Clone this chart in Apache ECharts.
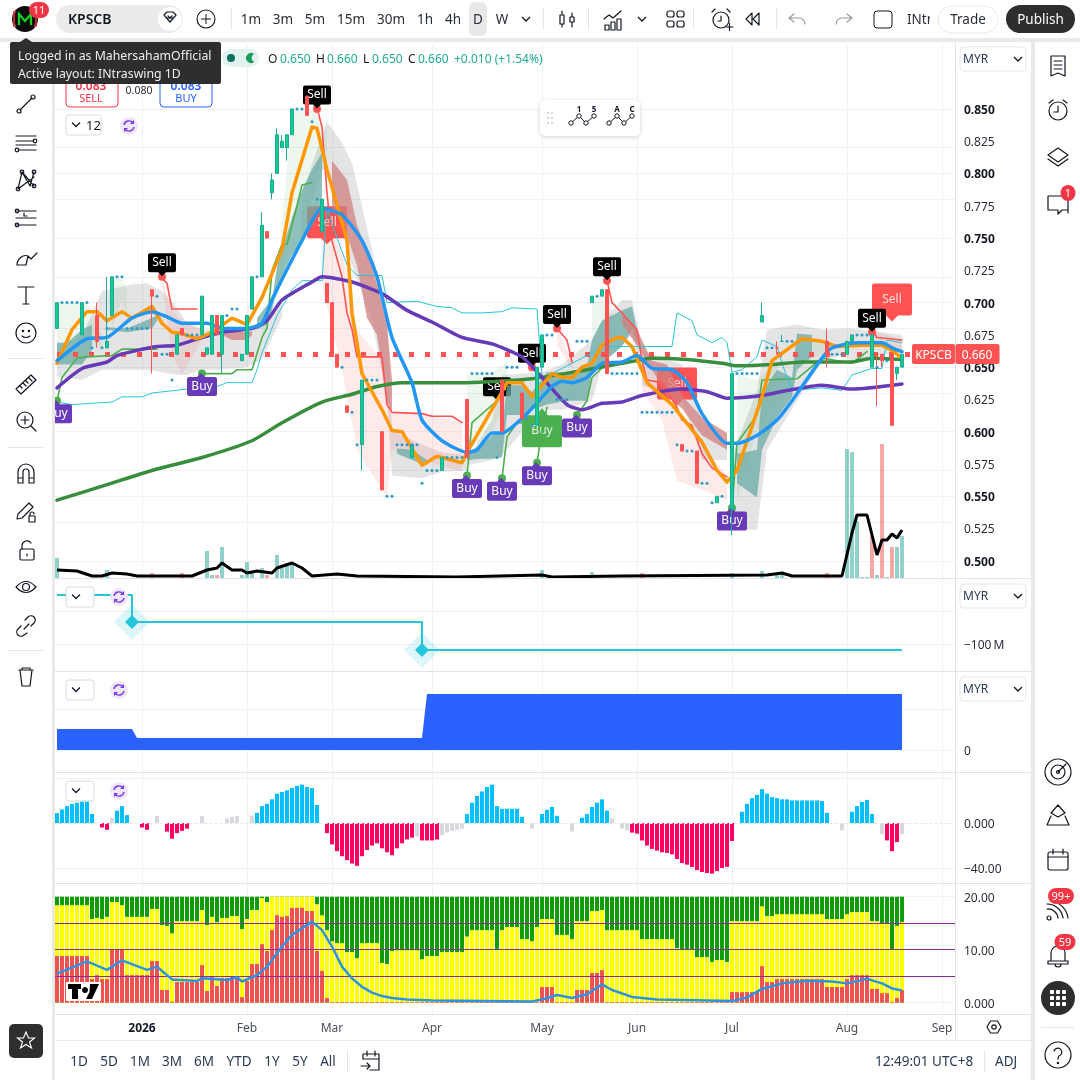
<!DOCTYPE html>
<html><head><meta charset="utf-8">
<script src="https://cdn.jsdelivr.net/npm/echarts@6/dist/echarts.min.js"></script>
<style>
html,body{margin:0;padding:0;background:#fff;width:1080px;height:1080px;overflow:hidden}
#c{position:absolute;left:0;top:0;width:1080px;height:1080px}
#o{position:absolute;left:0;top:0;width:1080px;height:1080px;pointer-events:none;font-family:"Noto Sans",sans-serif}
</style></head><body>
<div id="c"></div>
<svg id="o" viewBox="0 0 1080 1080" xmlns="http://www.w3.org/2000/svg"></svg>
<script>
// ---------- DATA ----------
const monthIdx=[17,38,55,75,97,116,135,158,177];
const monthLabels=['2026','Feb','Mar','Apr','May','Jun','Jul','Aug','Sep'];
const priceTicks=[0.5,0.525,0.55,0.575,0.6,0.625,0.65,0.675,0.7,0.725,0.75,0.775,0.8,0.825,0.85];
// [index, open, close, low, high]
const candles=[[0,.68,.70,.68,.70],[5,.675,.70,.675,.70],[8,.69,.67,.665,.70],[10,.665,.67,.665,.72],[11,.69,.72,.69,.72],[19,.71,.705,.645,.71],[24,.66,.675,.66,.675],[25,.68,.675,.675,.68],[29,.675,.705,.675,.705],[30,.66,.665,.66,.665],[31,.66,.69,.66,.69],[32,.69,.675,.675,.69],[33,.66,.69,.645,.69],[37,.655,.66,.655,.66],[38,.66,.69,.66,.69],[39,.695,.72,.695,.72],[41,.72,.76,.72,.77],[42,.755,.75,.75,.755],[43,.785,.795,.78,.80],[44,.80,.83,.80,.835],[45,.82,.825,.82,.83],[46,.82,.83,.81,.83],[47,.83,.85,.83,.85],[50,.86,.845,.845,.86],[53,.755,.78,.755,.78],[54,.715,.70,.70,.715],[55,.70,.66,.66,.70],[56,.66,.65,.65,.66],[58,.62,.615,.615,.62],[61,.59,.64,.57,.64],[65,.60,.555,.555,.60],[71,.58,.59,.58,.59],[77,.57,.58,.57,.58],[82,.625,.58,.58,.625],[89,.64,.60,.60,.64],[93,.63,.61,.61,.63],[96,.605,.65,.605,.65],[97,.65,.675,.65,.675],[107,.70,.705,.70,.705],[109,.705,.71,.705,.71],[110,.71,.645,.645,.71],[125,.59,.585,.585,.59],[128,.585,.56,.56,.585],[132,.545,.55,.545,.55],[135,.54,.645,.52,.645],[141,.685,.69,.685,.70],[144,.665,.665,.66,.67],[145,.67,.67,.67,.675],[154,.67,.66,.65,.68],[158,.66,.67,.66,.67],[159,.67,.675,.67,.675],[163,.65,.675,.65,.675],[164,.66,.66,.62,.66],[165,.66,.655,.65,.66],[167,.66,.605,.605,.66],[168,.645,.65,.64,.65],[169,.65,.66,.65,.66]];
const dotGroups=[[.70,[1,2,3,4,6]],[.72,[12,13,40]],[.665,[7,9,142,143]],[.68,[10,14,15,16,17,18]],[.705,[20,108]],[.66,[21,22,155,156,157]],[.64,[23,62,63,64]],[.675,[26,27,28,98,99,160,161,162]],[.69,[34]],[.695,[35,36]],[.85,[48,49]],[.84,[51]],[.78,[52]],[.65,[57,90,91,92,164]],[.615,[59,117,118,119,120,121,122,123]],[.59,[60,68,69,70,71,72,124]],[.55,[66,67,133]],[.56,[73,129,130]],[.57,[74,75,76]],[.58,[78,79,80,81,88]],[.645,[83,84,85,86,87,111,112,113,114,115,116,136,137,138,139,140]],[.61,[94]],[.605,[95]],[.625,[100,101,102]],[.67,[104,105,106,146,147]],[.585,[126,127]],[.545,[131]],[.655,[166]]];
const ma200=[[0,.547],[10,.559],[19,.570],[29,.580],[39,.593],[45,.607],[53,.623],[59,.629],[64,.635],[69,.638],[82,.638],[95,.641],[106,.648],[113,.653],[119,.657],[126,.656],[133,.653],[136,.651],[143,.652],[149,.654],[159,.654],[163,.657],[169,.656]];
const ma50=[[0,.634],[5,.649],[10,.654],[12,.659],[16,.663],[20,.666],[24,.667],[29,.673],[33,.677],[39,.680],[42,.686],[45,.702],[51,.716],[53,.720],[59,.716],[65,.707],[70,.694],[75,.685],[81,.673],[87,.668],[93,.658],[97,.642],[102,.621],[105,.617],[109,.622],[113,.623],[117,.628],[125,.633],[130,.631],[134,.626],[141,.628],[146,.632],[153,.636],[159,.633],[169,.637]];
const ma20=[[0,.655],[6,.672],[10,.673],[15,.688],[19,.693],[22,.689],[25,.684],[30,.684],[33,.680],[38,.680],[41,.684],[43,.702],[45,.718],[49,.748],[53,.773],[57,.768],[61,.748],[64,.72],[67,.673],[71,.638],[73,.609],[77,.593],[82,.584],[84,.586],[87,.599],[89,.599],[94,.614],[99,.635],[101,.639],[103,.638],[106,.642],[109,.653],[113,.654],[116,.659],[119,.649],[123,.648],[126,.638],[129,.614],[134,.591],[136,.591],[140,.597],[144,.609],[147,.624],[153,.657],[155,.665],[160,.669],[165,.669],[167,.665],[169,.662]];
const ma10=[[0,.653],[3,.679],[6,.693],[8,.693],[10,.686],[13,.693],[15,.688],[19,.697],[21,.684],[23,.677],[25,.676],[28,.672],[31,.677],[35,.688],[38,.683],[41,.704],[45,.741],[47,.785],[51,.836],[52,.835],[54,.803],[58,.748],[59,.692],[61,.645],[65,.617],[67,.601],[69,.600],[73,.574],[76,.581],[81,.576],[82,.584],[88,.624],[90,.638],[93,.638],[95,.627],[99,.645],[101,.642],[103,.642],[105,.650],[107,.653],[109,.667],[112,.673],[113,.673],[115,.666],[118,.638],[123,.621],[129,.592],[132,.570],[134,.561],[136,.570],[141,.627],[143,.655],[149,.672],[153,.670],[156,.666],[161,.667],[165,.667],[167,.663],[169,.657]];
const redTrails=[
 [[21,.719],[22,.715],[23,.695],[28,.695]],
 [[52,.851],[53,.836],[54,.785],[55,.748],[57,.72],[58,.692],[59,.679],[60,.658],[65,.658],[66,.621],[67,.615],[73,.614],[75,.612],[79,.612],[81,.607]],
 [[100,.680],[102,.671],[103,.654]],
 [[110,.717],[111,.700],[113,.692],[116,.679],[117,.655],[118,.640],[121,.638],[124,.619],[125,.609],[127,.605],[129,.583],[131,.572],[134,.565]],
 [[163,.679],[164,.673],[169,.671]]];
const greenTrails=[
 [[0,.624],[1,.642],[4,.657],[6,.658],[11,.659],[13,.664],[20,.664]],
 [[29,.645],[35,.645],[36,.648],[39,.648],[41,.673],[42,.680],[43,.725],[45,.745],[46,.745],[48,.775],[49,.791],[51,.793]],
 [[82,.566],[83,.607],[88,.624]],
 [[89,.564],[90,.596],[92,.607],[95,.607]],
 [[96,.576],[97,.601],[98,.619]],
 [[104,.613],[106,.624],[107,.642],[110,.653]],
 [[135,.541],[136,.591],[140,.613],[141,.640],[148,.641],[153,.657],[159,.653],[162,.662]]];
const channel=[[0,.623],[3,.621],[11,.623],[13,.627],[17,.627],[19,.630],[26,.633],[29,.635],[32,.635],[34,.638],[39,.638],[40,.648],[41,.661],[44,.690],[47,.710],[49,.717],[53,.717],[54,.774],[55,.761],[58,.729],[60,.721],[65,.721],[66,.700],[72,.701],[76,.697],[79,.696],[81,.692],[85,.692],[89,.693],[91,.696],[96,.695],[97,.642],[99,.645],[107,.661],[109,.666],[113,.666],[123,.666],[124,.692],[127,.686],[128,.675],[129,.673],[131,.669],[133,.673],[134,.669],[135,.646],[137,.648],[140,.658],[141,.671],[144,.666],[145,.653],[147,.632],[153,.634],[157,.632],[159,.644],[163,.649],[165,.649],[166,.671],[169,.669]];
// bands: [index, upper, lower]
const tealBands=[
 [[0,.669,.652],[2,.669,.652],[5,.679,.652],[7,.683,.663]],
 [[10,.681,.679],[14,.680,.677],[19,.688,.680],[20,.690,.686]],
 [[40,.688,.679],[42,.698,.683],[43,.702,.694],[44,.728,.713],[47,.766,.737],[49,.787,.748],[51,.803,.76],[53,.816,.774]],
 [[68,.587,.583],[71,.586,.578],[74,.578,.574]],
 [[82,.584,.578],[85,.590,.579],[87,.597,.579],[89,.601,.580],[90,.636,.613],[93,.636,.613],[95,.631,.617],[98,.646,.621],[102,.646,.624],[106,.650,.624],[107,.671,.648],[109,.686,.653],[113,.694,.666],[115,.697,.679],[116,.679,.667]],
 [[136,.583,.560],[140,.586,.549],[141,.630,.586],[144,.648,.611],[147,.642,.627],[148,.676,.648],[151,.675,.658]]];
const grayBands=[
 [[0,.666,.643],[5,.674,.640],[9,.709,.648],[15,.714,.648],[18,.715,.648],[21,.709,.646],[24,.696,.644],[26,.684,.644],[29,.679,.648],[32,.679,.648],[38,.679,.650],[41,.683,.656],[45,.704,.689]],
 [[49,.783,.745],[51,.807,.779],[54,.84,.81],[57,.824,.756],[59,.808,.729],[63,.741,.686],[66,.686,.624],[67,.601,.566],[73,.590,.564],[77,.584,.569],[82,.582,.570]],
 [[82,.578,.574],[87,.609,.578],[89,.644,.582],[97,.646,.617],[101,.652,.617],[107,.671,.624],[109,.686,.652],[113,.702,.667],[115,.702,.675],[117,.667,.644]],
 [[117,.663,.636],[125,.652,.624],[129,.609,.578],[134,.593,.578]],
 [[135,.582,.524],[140,.632,.524],[142,.679,.586],[148,.683,.624],[153,.679,.655],[157,.680,.659],[159,.680,.655],[169,.675,.663]]];
const paleGreenBands=[
 [[0,.700,.667],[6,.700,.671],[9,.675,.663]],
 [[11,.720,.679],[13,.720,.702],[14,.710,.686]],
 [[41,.679,.671],[44,.717,.702],[47,.849,.764],[51,.849,.803],[54,.835,.803]],
 [[82,.644,.586],[85,.646,.593],[87,.646,.601],[90,.654,.624]],
 [[107,.702,.671],[110,.706,.686],[111,.702,.686]],
 [[136,.644,.547],[140,.640,.601],[144,.655,.624]],
 [[151,.671,.657],[155,.669,.663]]];
const paleRedBands=[
 [[21,.719,.714],[23,.694,.659],[25,.686,.644],[29,.680,.671]],
 [[53,.768,.714],[57,.741,.648],[60,.679,.586],[65,.655,.555],[66,.624,.549],[67,.615,.586],[73,.614,.578],[81,.607,.569]],
 [[100,.680,.667],[103,.655,.648]],
 [[117,.667,.632],[121,.638,.609],[124,.619,.562],[129,.590,.555],[134,.566,.547]],
 [[163,.679,.671],[169,.671,.660]]];
const darkRedBands=[
 [[55,.81,.776],[58,.795,.752],[60,.76,.729],[62,.741,.688],[64,.714,.675],[66,.683,.624],[67,.640,.615]],
 [[33,.677,.675],[35,.678,.671],[38,.677,.671],[39,.678,.675]],
 [[113,.693,.683],[116,.679,.667],[119,.655,.648],[122,.652,.628],[125,.628,.618],[129,.611,.597],[134,.599,.586]]];
const sellSignals=[[21,.72],[52,.85],[95,.65],[100,.68],[110,.717],[163,.677]];
const sellSignalsUnder=[[88,.624]];
const buySignals=[[0,.624],[29,.645],[82,.566],[89,.564],[96,.576],[104,.613],[135,.541]];
const bigSell=[[54,.76],[124,.635],[167,.70]];
const bigBuy=[[97,.603]];
const lastPrice=0.66;
// volume (relative) [index, value]
const volUp=[[0,20],[10,8],[30,27],[31,3],[33,31],[37,3],[38,16],[39,7],[41,10],[44,23],[45,10],[46,15],[47,16],[97,8],[107,6],[135,5],[141,7],[144,3],[145,4],[158,129],[159,126],[160,57],[161,1],[162,1],[164,3],[166,1],[168,31],[169,42]];
const volDown=[[19,5],[25,5],[32,3],[42,3],[117,5],[154,5],[163,42],[165,134],[167,31]];
const volAvg=[[0,8],[4,7],[7,2],[9,2],[11,5],[14,4],[16,2],[27,2],[30,8],[32,10],[33,15],[35,8],[37,8],[38,5],[40,7],[43,5],[44,10],[47,15],[49,10],[51,2],[56,4],[60,2],[80,1],[97,3],[99,1],[113,2],[142,3],[145,5],[147,2],[157,2],[159,45],[160,63],[162,63],[164,23],[165,38],[166,38],[167,44],[168,40],[169,48]];
const stepLine=[[0,48.5],[15,48.5],[15,-32.5],[73,-32.5],[73,-116.5],[169,-116.5]];
const stepMarks=[[15,-32.5],[73,-116.5]];
const blueArea=[[0,21],[15,21],[16,12],[73,12],[74,56],[169,56]];
const hist=[8.8,12,15,17,18,19,19,8,0,-4,
-6,4.7,11,15,7,0,0,-4,-6,0,
6.4,0,-7.6,-14,-9,-7,-5,0,0,6.4,
0,0,0,0,4,5.5,6.4,0,0,6.4,
9,15,17,21,26,27.5,29,31,33,34,
32,31,16,0,-9,-19,-25,-29.5,-33,-36,
-38,-29.5,-24,-20,-18,-22.5,-26,-28.6,-22.5,-18,
-14.6,-13,-12,-15.5,-15.5,-15.5,-14.6,-11,-8.5,-7,
-6,-5,8,18,24,28,32,34,15,12.6,
12.6,12.6,12.6,5.5,0,-5,0,8,11.7,14.3,
6.4,0,0,-7.6,0,4.7,8,14.3,18,21,
11,4,0,-5,-6.7,-8.5,-9.4,-15.5,-20,-23,
-24.5,-26,-26.6,-27.8,-32,-35.6,-37,-39,-41.8,-43.5,
-44.4,-45,-42.7,-40,-39,-16,0,10,17,22,
25,30,26,23,22,21,21,20,20,20,
20,20,20,19.5,9,0,0,-6.7,0,10,
15,18.7,20.5,8,0,-10,-15.5,-25,-17,-10];
const histGray=[11,20,29,34,35,36,39,72,77,78,79,80,81,95,103,111,113,114,157,165,169];
const yellowTop=[18.4,18.4,18.4,18.4,18.4,18.4,18.4,15.8,16,15.8,
16.2,19,19,18.4,16.2,16.2,16.2,16.2,16.2,17.7,
17.7,14.65,14.5,13.1,15.4,15.4,15.4,15.4,15.4,17.5,
14.65,16.2,15.2,16,16,16.35,16.35,13.9,15.8,17.5,
17.5,19.75,19,20,20,20,20,20,20,20,
20,20,18.6,16.5,13.7,11.6,11.25,11.25,9.55,9.55,
8.4,11.25,11.25,11.25,11.25,7.5,7.3,9.75,9.9,9.9,
9.9,9.9,9.9,8.2,8.8,8.8,8.8,9.55,9.55,9.55,
9.55,9.55,12.5,13.7,13.7,13.7,13.7,13.7,10,13.7,
14.3,14.3,14.3,12,12,11.6,14.3,15.8,15.8,15.8,
12.8,12.8,12.8,12,15.4,15.4,15.4,17.3,17.3,17.5,
13.7,13.7,13.7,13.7,13.7,13.7,13.7,12,12,12,
12,12,12,12,10.3,10.1,10,10,8.6,8.6,
8.6,7.7,8.05,8.05,7.7,15.4,15.4,15.4,15.4,15.4,
15.4,18.2,16.35,16.35,16.7,16.7,16.7,16.7,16.7,16.7,
16.7,16.7,16.7,16.7,15.8,15.8,15.8,15.8,16.7,17.1,
17.1,17.1,17.1,15.4,15.4,15,15,10,14.5,15.2];
const redTop=[8.8,8.8,8.8,8.8,8.8,8.8,8.8,4.45,5.2,4.45,
4.45,10.1,10.1,10.1,5.2,5.2,5.2,5.2,5.2,7.85,
7.85,2.4,2.4,.2,3.9,3.9,3.9,3.9,3.9,7.1,
2.2,4.85,3.15,4.65,4.65,4.85,4.85,1.05,4.1,7.3,
7.3,11.05,9.75,13.7,16.5,16.2,16.35,17.9,17.9,17.9,
17.3,17.3,9.75,6,.9,.12,.12,.12,.12,.12,
.12,.12,.12,.12,.12,.12,.12,.12,.12,.12,
.12,.12,.12,.12,.12,.12,.12,.12,.12,.12,
.12,.12,.12,.12,.12,.12,.12,.12,.12,.12,
.12,.12,.12,.12,.12,.12,.12,2.95,2.95,2.95,
.12,.12,.12,.12,2.4,2.4,2.4,5.6,5.6,6.15,
.12,.12,.12,.12,.12,.12,.12,.12,.12,.12,
.12,.12,.12,.12,.12,.12,.12,.12,.12,.12,
.12,.12,.12,.12,.12,2,2,2,2,2,
2,6.9,3.9,3.9,4.45,4.45,4.45,4.45,4.45,4.45,
4.45,4.45,4.45,4.45,2.95,2.95,2.95,2.95,4.45,5.2,
5.2,5.2,5.2,2.6,2.6,1.8,1.8,.12,.9,2.35];
const atrLine=[[0,5.5],[6,7.8],[10,6.2],[13,8],[18,6.2],[20,6.8],[23,4.4],[28,4.1],[29,4.6],[34,4.3],[36,4.8],[37,4],[40,5.2],[42,6.8],[45,10.6],[47,12.8],[51,15.3],[53,13.7],[55,10.6],[57,6.8],[59,4.6],[61,3],[63,1.9],[65,1.25],[67,.9],[70,.6],[75,.4],[95,.25],[97,.6],[100,1.45],[103,.9],[106,1.6],[109,3.46],[111,2.4],[115,1.1],[120,.6],[135,.3],[138,1],[141,2.6],[145,3.65],[150,4.15],[155,4],[158,3.65],[162,4.5],[165,3.65],[167,2.7],[169,2.3]];
const legendText=['O','0.650','H','0.660','L','0.650','C','0.660'];

// ---------- CHART ----------
const FONT='"Noto Sans",sans-serif', N=181;
const cats=Array.from({length:N},(_,i)=>{const k=monthIdx.indexOf(i);return k>=0?monthLabels[k]:''});
const panes=[[44,534],[579,92],[672,100],[773,110],[884,130]];
const grids=panes.map(p=>({left:54.5,width:905,top:p[0],height:p[1]}));
const xAxes=panes.map((p,i)=>({type:'category',gridIndex:i,data:cats,boundaryGap:true,axisLine:{show:false},axisTick:{show:false},splitLine:{show:false},
 axisLabel:i==4?{show:true,interval:0,margin:8.5,color:'#4a4e5a',fontFamily:FONT,fontSize:12,
   formatter:v=>v=='2026'?'{b|2026}':v,rich:{b:{fontWeight:'bold',color:'#131722',fontFamily:FONT,fontSize:12}}}:{show:false}}));
const lbl=(vals,fmt)=>({show:true,customValues:vals,margin:4.5,color:'#2a2e39',fontFamily:FONT,fontSize:12,formatter:fmt,padding:[3,0,0,0],
 rich:{b:{fontWeight:'bold',color:'#131722',fontFamily:FONT,fontSize:12}}});
const yBase=(g,min,max,label)=>({type:'value',gridIndex:g,position:'right',min,max,scale:true,axisLine:{show:false},axisTick:{show:false},splitLine:{show:false},axisLabel:label});
const priceFmt=v=>{const s=v.toFixed(3);return Math.round(v*1000)%50==0?'{b|'+s+'}':s};
const yAxes=[
 yBase(0,0.4867,0.9003,lbl(priceTicks,priceFmt)),
 yBase(0,0,534,{show:false}),
 yBase(1,-179.5,96.5,lbl([-100],()=>'\u2212100\u2009M')),
 yBase(2,-22,78,lbl([0],()=>'0')),
 yBase(3,-53.3,44.4,lbl([0,-40],v=>v==0?'0.000':'\u221240.00')),
 yBase(4,-2.13,22.4,lbl([0,10,20],v=>v==0?'0.000':v.toFixed(2)))];
function gridSeries(pane,yIdx,hVals){
 return {type:'line',xAxisIndex:pane,yAxisIndex:yIdx,data:[],silent:true,z:0,showSymbol:false,
  markLine:{z:0,silent:true,symbol:'none',animation:false,label:{show:false},lineStyle:{color:'#eff1f5',width:1,type:'solid'},
   data:hVals.map(v=>({yAxis:v})).concat(monthIdx.map(i=>({xAxis:i})))}};
}
function bandSeries(list,fill,z){
 return list.map(b=>({type:'custom',xAxisIndex:0,yAxisIndex:0,silent:true,z,clip:true,animation:false,
  data:[[b[0][0],b[0][1]]],encode:{x:0,y:1},
  renderItem:(p,api)=>{
   const up=b.map(r=>api.coord([r[0],r[1]])),lo=b.map(r=>api.coord([r[0],r[2]])).reverse();
   return {type:'polygon',shape:{points:up.concat(lo)},style:{fill}};
  }}));
}
function lineS(data,color,width,z,extra){
 return Object.assign({type:'line',xAxisIndex:0,yAxisIndex:0,data,showSymbol:false,symbol:'none',silent:true,z,clip:true,
  lineStyle:{color,width,cap:'round',join:'round'}},extra||{});
}
const candleData=Array.from({length:170},()=>'-');
candles.forEach(c=>{candleData[c[0]]=[c[1],c[2],c[3],c[4]]});
const dots=dotGroups.flatMap(g=>g[1].map(i=>[i,g[0]]));
const signalSym={
 sell:'path://M2 0H26Q28 0 28 2V17Q28 19 26 19H18L14 23L10 19H2Q0 19 0 17V2Q0 0 2 0Z',
 buy:'path://M14 0L18 4H28Q30 4 30 6V21Q30 23 28 23H2Q0 23 0 21V6Q0 4 2 4H10Z',
 bigSell:'path://M2 0H38Q40 0 40 2V30Q40 32 38 32H26L20 38L14 32H2Q0 32 0 30V2Q0 0 2 0Z',
 bigBuy:'path://M20 0L26 7H38Q40 7 40 9V37Q40 39 38 39H2Q0 39 0 37V9Q0 7 2 7H14Z'};
const sigLabel=(t,size,offY,col)=>({show:true,position:'inside',formatter:t,color:col||'#fff',fontFamily:FONT,fontSize:size,offset:[0,offY]});
const blackSell=(data,z)=>({type:'scatter',xAxisIndex:0,yAxisIndex:0,data,symbol:signalSym.sell,symbolSize:[28,23],symbolOffset:[0,-12],silent:true,z,itemStyle:{color:'#000',opacity:1},label:sigLabel('Sell',12,-2)});

const series=[
 gridSeries(0,0,priceTicks),gridSeries(1,2,[0,-100]),gridSeries(2,3,[0,41]),gridSeries(3,4,[40,-40]),gridSeries(4,5,[20,0]),
 // volume overlay
 {type:'bar',xAxisIndex:0,yAxisIndex:1,data:volUp,barWidth:4,barGap:'-100%',silent:true,z:1,itemStyle:{color:'rgba(38,166,154,.5)'}},
 {type:'bar',xAxisIndex:0,yAxisIndex:1,data:volDown,barWidth:4,barGap:'-100%',silent:true,z:1,itemStyle:{color:'rgba(242,80,80,.5)'}},
 // big signal tags below bands
 {type:'scatter',xAxisIndex:0,yAxisIndex:0,data:bigSell,symbol:signalSym.bigSell,symbolSize:[40,38],silent:true,z:2,itemStyle:{color:'#FF5252',opacity:1},label:sigLabel('Sell',12,-3,'rgba(255,255,255,.8)')},
 {type:'scatter',xAxisIndex:0,yAxisIndex:0,data:bigBuy,symbol:signalSym.bigBuy,symbolSize:[40,39],silent:true,z:2,itemStyle:{color:'#4CAF50',opacity:1},label:sigLabel('Buy',12,3,'rgba(255,255,255,.85)')},
 blackSell(sellSignalsUnder,2),
 ...bandSeries(grayBands,'rgba(120,120,125,.2)',2),
 ...bandSeries(paleGreenBands,'rgba(76,175,80,.1)',2),
 ...bandSeries(paleRedBands,'rgba(255,82,82,.12)',2),
 ...bandSeries(tealBands,'rgba(105,171,164,.75)',3),
 ...bandSeries(darkRedBands,'rgba(208,128,128,.75)',3),
 // thin trail lines
 ...redTrails.map(d=>lineS(d,'#FF5252',1.6,4)),
 ...greenTrails.map(d=>lineS(d,'#4CAF50',1.6,4)),
 lineS(channel,'#26C6DA',1,4),
 // last price
 lineS([],'#FF5252',1,4,{markLine:{z:4,silent:true,symbol:'none',animation:false,label:{show:false},lineStyle:{color:'#FF5252',width:5,type:[5,11],cap:'butt'},data:[[{coord:[0,lastPrice]},{coord:[171,lastPrice]}]]}}),
 // signals sit under the averages and candles
 {type:'scatter',xAxisIndex:0,yAxisIndex:0,data:sellSignals,symbol:'circle',symbolSize:8,silent:true,z:4,itemStyle:{color:'#FF5252',opacity:1}},
 {type:'scatter',xAxisIndex:0,yAxisIndex:0,data:buySignals,symbol:'circle',symbolSize:8,silent:true,z:4,itemStyle:{color:'#4CAF50',opacity:1}},
 blackSell(sellSignals,4),
 {type:'scatter',xAxisIndex:0,yAxisIndex:0,data:buySignals,symbol:signalSym.buy,symbolSize:[30,23],symbolOffset:[0,11],silent:true,z:4,itemStyle:{color:'#673AB7',opacity:1},label:sigLabel('Buy',12,2)},
 // moving averages
 lineS(ma200,'#388E3C',3.5,5,{smooth:.2}),lineS(ma50,'#673AB7',3.5,5,{smooth:.2}),lineS(ma10,'#FF9800',3.5,5),lineS(ma20,'#2196F3',3.5,5,{smooth:.2}),
 // candles and dots
 {type:'candlestick',xAxisIndex:0,yAxisIndex:0,data:candleData,barWidth:3,silent:true,z:6,itemStyle:{color:'#0FCF8B',color0:'#FF5252',borderColor:'#1EA79A',borderColor0:'#FF5252',borderWidth:1}},
 {type:'scatter',xAxisIndex:0,yAxisIndex:0,data:dots,symbol:'circle',symbolSize:3,silent:true,z:6,itemStyle:{color:'#2E9BC8',opacity:1}},
 // volume average
 {type:'line',xAxisIndex:0,yAxisIndex:1,data:volAvg,showSymbol:false,symbol:'none',silent:true,z:7,lineStyle:{color:'#000',width:3}},
 // pane 2
 {type:'scatter',xAxisIndex:1,yAxisIndex:2,data:stepMarks,symbol:'diamond',symbolSize:36,silent:true,z:3,itemStyle:{color:'rgba(38,198,218,.16)',opacity:1}},
 {type:'line',xAxisIndex:1,yAxisIndex:2,data:stepLine,showSymbol:false,symbol:'none',silent:true,z:4,lineStyle:{color:'#26C6DA',width:2}},
 {type:'scatter',xAxisIndex:1,yAxisIndex:2,data:stepMarks,symbol:'diamond',symbolSize:14,silent:true,z:5,itemStyle:{color:'#26C6DA',opacity:1}},
 // pane 3
 {type:'line',xAxisIndex:2,yAxisIndex:3,data:blueArea,showSymbol:false,symbol:'none',silent:true,z:3,lineStyle:{width:0,color:'#2962FF'},areaStyle:{color:'#2962FF',opacity:1,origin:0}},
 // pane 4
 {type:'bar',xAxisIndex:3,yAxisIndex:4,data:hist,barWidth:4,silent:true,z:3,itemStyle:{color:p=>histGray.includes(p.dataIndex)?'#D8D9DE':(p.value>=0?'#00BFFF':'#FF0062')},
  markLine:{silent:true,symbol:'none',animation:false,label:{show:false},lineStyle:{color:'#e6e7ec',width:1,type:[3,2]},data:[{yAxis:0}]}},
 // pane 5
 {type:'bar',xAxisIndex:4,yAxisIndex:5,data:hist.map(()=>20),barWidth:4,barGap:'-100%',silent:true,z:2,itemStyle:{color:'#119C06'}},
 {type:'bar',xAxisIndex:4,yAxisIndex:5,data:yellowTop,barWidth:4,barGap:'-100%',silent:true,z:3,itemStyle:{color:'#FFFF00'}},
 {type:'bar',xAxisIndex:4,yAxisIndex:5,data:redTop,barWidth:4,barGap:'-100%',silent:true,z:4,itemStyle:{color:'#EF5350'}},
 {type:'line',xAxisIndex:4,yAxisIndex:5,data:atrLine,showSymbol:false,symbol:'none',silent:true,z:6,lineStyle:{color:'#2E93E6',width:2.5},
  markLine:{silent:true,symbol:'none',animation:false,label:{show:false},lineStyle:{color:'#8E2A9C',width:1,type:'solid'},data:[{yAxis:5},{yAxis:10},{yAxis:15}]}}
];
const chart=echarts.init(document.getElementById('c'),null,{renderer:'canvas'});
chart.setOption({animation:false,backgroundColor:'#fff',grid:grids,xAxis:xAxes,yAxis:yAxes,series});

// ---------- CHROME ----------
const K='#131722';
let s='';
const rect=(x,y,w,h,f,r,st)=>`<rect x="${x}" y="${y}" width="${w}" height="${h}" fill="${f}"${r?` rx="${r}"`:''}${st?` stroke="${st}"`:''}/>`;
const txt=(x,y,t,o={})=>`<text x="${x}" y="${y}" font-size="${o.s||13}" fill="${o.f||K}" text-anchor="${o.a||'start'}" font-weight="${o.w||400}">${t}</text>`;
const ic=(cx,cy,inner,col)=>`<g transform="translate(${cx-14} ${cy-14})" fill="none" stroke="${col||K}" stroke-width="1.2" stroke-linecap="round" stroke-linejoin="round">${inner}</g>`;
const badge=(cx,cy,t,w)=>rect(cx-w/2,cy-8,w,16,'#F23645',8)+txt(cx,cy+4,t,{s:11,f:'#fff',a:'middle'});
const sync=(cx,cy)=>`<circle cx="${cx}" cy="${cy}" r="9" fill="#ede7f9"/><g fill="none" stroke="#7c3aed" stroke-width="1.4"><path d="M${cx-5} ${cy-1}a5 5 0 0 1 9 -2"/><path d="M${cx+5} ${cy+1}a5 5 0 0 1 -9 2"/></g><path d="M${cx+5} ${cy-6}v4h-4zM${cx-5} ${cy+6}v-4h4z" fill="#7c3aed"/>`;
const chev=(cx,cy,c)=>`<path d="M${cx-4} ${cy-2}l4 4l4 -4" fill="none" stroke="${c||K}" stroke-width="1.3"/>`;
const paneBtn=(x,y,w,t)=>rect(x,y,w,20,'#fff',3,'#d8dae0')+chev(x+10,y+9.5)+(t?txt(x+20,y+15,t,{s:13}):'');
const myr=(y)=>rect(960,y,66,24,'#fff',4,'#e6e7ec')+txt(963,y+16,'MYR',{s:12,f:'#2a3a55'})+chev(1018,y+12);
// frames
s+=rect(0,0,1080,38,'#fff')+rect(0,38,1080,4,'#e9e9ea');
s+=rect(0,42,52,1038,'#fff')+rect(52,42,3,1038,'#e9e9ea');
s+=rect(1035,42,45,1038,'#fff')+rect(1031,42,4,1038,'#e9e9ea');
s+=rect(955,42,6,972,'#fff')+rect(955,42,1,998,'#e2e3ea');
s+=rect(56,1040,975,40,'#fff')+rect(56,1040,975,1,'#e9e9ec');
[578,671,772,883,1014].forEach(y=>{s+=rect(55,y,976,1,'#e2e3ea')});
// top bar
s+=`<circle cx="25" cy="19" r="13" fill="#0c0c0c"/><path d="M19 25v-11l6 7l6 -7v11" fill="none" stroke="#14d11f" stroke-width="2.2"/><path d="M16 12h-2v14h2M34 12h2v14h-2" stroke="#e63030" stroke-width="1.6" fill="none"/>`;
s+=badge(39,10,'11',20);
s+=rect(56,5,127,28,'#ebebec',14)+txt(68,24,'KPSCB',{s:14,w:600})+`<circle cx="170" cy="19" r="12" fill="#fff"/>`+ic(170,19,'<path d="M8 10l3-3h6l3 3l-6 7zM11 13h6"/><path d="M12 11l2 2l2-2"/>');
s+=`<circle cx="206" cy="19" r="9" fill="none" stroke="${K}" stroke-width="1.1"/><path d="M201 19h10M206 14v10" stroke="${K}"/>`;
[231,543,588,693,776].forEach(x=>{s+=rect(x,8,1,22,'#e6e7ea')});
s+=rect(469,2,18,34,'#e9e9ea',6);
[['1m',251],['3m',283],['5m',315],['15m',351],['30m',391],['1h',425],['4h',453],['D',478],['W',502]].forEach(a=>{s+=txt(a[1],24,a[0],{a:'middle',s:13.5,f:'#2a2e39'})});
s+=chev(526,19);
s+=ic(567,19,'<path d="M9 6v16M19 8v14"/><rect x="7" y="10" width="4" height="9" fill="#fff"/><rect x="17" y="12" width="4" height="5" fill="#fff"/>');
s+=ic(613,19,'<path d="M5 14l5-4l4 3l8-7"/><rect x="6" y="20" width="4" height="5"/><rect x="12" y="17" width="4" height="8"/><rect x="18" y="14" width="4" height="11"/>');
s+=chev(642,19);
s+=ic(675,19,'<rect x="6" y="6" width="7" height="6" rx="2"/><rect x="16" y="6" width="7" height="6" rx="2"/><rect x="6" y="16" width="7" height="6" rx="2"/><rect x="16" y="16" width="7" height="6" rx="2"/>');
s+=ic(721,19,'<circle cx="14" cy="15" r="8"/><path d="M14 11v5h-3M5 7l3-3M23 7l-3-3M19 22h7M22.5 18.500v7"/>');
s+=ic(753,19,'<path d="M13 8l-6 6l6 6zM20 8l-6 6l6 6z"/>');
s+=ic(797,19,'<path d="M11 9l-5 4l5 4M6 13h10q5 0 6 6" stroke="#9598a1"/>');
s+=ic(844,19,'<path d="M17 9l5 4l-5 4M22 13h-10q-5 0 -6 6" stroke="#9598a1"/>');
s+=rect(874,11,18,17,'#fff',3,K);
s+=txt(907,24,'INtra',{s:13.5,f:'#2a2e39'});
s+=rect(930,2,8,34,'#fff');
s+=rect(938,6,60,27,'#fff',13.5,'#ebebee')+txt(968,24,'Trade',{a:'middle',s:13.5,f:'#2a2e39'});
s+=rect(1006,5,69,28,'#2e2e2e',14)+txt(1040.500,24,'Publish',{a:'middle',s:13.5,f:'#fff'});
// legend
s+=rect(222,49,37,18,'#e2f3ef',9)+`<circle cx="231" cy="58" r="4" fill="#0f6e5e"/><path d="M254 54a5 5 0 1 0 0 8a4.500 4.500 0 0 1 0 -8z" fill="#1b9e5a"/>`;
const lx=[268,280,316,327,363,372,408,418];
legendText.forEach((t,i)=>{s+=txt(lx[i],63,t,{f:i%2?'#22AB94':K,s:12})});
s+=txt(454,63,'+0.010 (+1.54%)',{f:'#22AB94',s:12});
// sell/buy box
s+=rect(66,72,52,35,'#fff',4,'#F23645')+txt(91,90,'0.083',{a:'middle',s:12,f:'#F23645',w:600})+txt(91,102,'SELL',{a:'middle',s:11,f:'#F23645'});
s+=txt(139,94,'0.080',{a:'middle',s:10.500,f:'#2a2e39'});
s+=rect(160,72,52,35,'#fff',4,'#2962FF')+txt(186,90,'0.083',{a:'middle',s:12,f:'#2962FF',w:600})+txt(186,102,'BUY',{a:'middle',s:11,f:'#2962FF'});
// tooltip
s+=`<path d="M20 42l6-4l6 4z" fill="#2e2e2e"/>`+rect(10,42,211,42,'#2e2e2e',2)+txt(18,60,'Logged in as MahersahamOfficial',{s:12.3,f:'#eee'})+txt(18,78,'Active layout: INtraswing 1D',{s:12.3,f:'#eee'});
// buttons in panes
s+=paneBtn(66,115,35,'12')+sync(129,126);
s+=paneBtn(66,587,28)+sync(119,597);
s+=paneBtn(66,680,28)+sync(119,690);
s+=paneBtn(66,781,28)+sync(119,791);
// floating tool
s+=`<defs><filter id="sh" x="-10%" y="-20%" width="120%" height="150%"><feDropShadow dx="0" dy="1" stdDeviation="2" flood-opacity=".18"/></filter></defs>`;
s+=`<rect x="540" y="100" width="100" height="36" rx="6" fill="#fff" filter="url(#sh)"/>`;
[[548,113],[552,113],[548,118],[552,118],[548,123],[552,123]].forEach(p=>{s+=`<circle cx="${p[0]}" cy="${p[1]}" r="1" fill="#c9cbd2"/>`});
const wave=x=>`<path d="M${x} 123l8-7l7 7l8-7" fill="none" stroke="${K}"/>`+[[x,123],[x+8,116],[x+15,123],[x+23,116]].map(p=>`<circle cx="${p[0]}" cy="${p[1]}" r="2.200" fill="#fff" stroke="${K}"/>`).join('');
s+=wave(571)+txt(579,112,'1',{s:8,w:700,a:'middle'})+txt(594,112,'5',{s:8,w:700,a:'middle'});
s+=wave(609)+txt(617,112,'A',{s:8,w:700,a:'middle'})+txt(632,112,'C',{s:8,w:700,a:'middle'});
// last price tag
s+=rect(912,344,43,20,'#FF5252',2)+txt(933.500,359,'KPSCB',{a:'middle',s:12,f:'#fff'});
s+=rect(955.500,344,44,20,'#FF5252',2)+txt(977,359,'0.660',{a:'middle',s:12,f:'#fff'});
// MYR
s+=myr(47)+myr(584)+myr(677);
// TV logo
s+=rect(66,982,35,19,'#fff',1)+`<path d="M68 984h13v5h-3v10h-6v-10h-4z M85 987a3 3 0 1 0 0.010 0z M90 984h9l-7 15h-6l3.500 -7z" fill="#000"/>`;
// left tools
s+=ic(26,104,'<path d="M8 20L20 8"/><circle cx="7" cy="21" r="2"/><circle cx="21" cy="7" r="2"/>');
s+=ic(26,143,'<path d="M4 7h20M4 12h18M4 16h20M6 21h18"/><circle cx="23" cy="12" r="1.800"/><circle cx="5" cy="21" r="1.800"/>');
s+=ic(26,180,'<path d="M6 23L10 6l8 14l4-14M6 23l16-12M10 6l12 14"/><circle cx="6" cy="23" r="1.800"/><circle cx="10" cy="6" r="1.800"/><circle cx="22" cy="6" r="1.800"/><circle cx="22" cy="20" r="1.800"/>');
s+=ic(26,218,'<path d="M4 7h20M4 14h20M4 21h20M12 9v3h3"/><circle cx="5" cy="7" r="1.800"/><circle cx="5" cy="21" r="1.800"/>');
s+=ic(26,257,'<path d="M5 22c0-6 6-11 11-9l-2 9zM16 13l3 3l6-6"/>');
s+=ic(26,295,'<path d="M6 6h16M14 6v17M11 23h6"/>');
s+=ic(26,333,'<circle cx="14" cy="14" r="10"/><circle cx="11" cy="12" r=".7"/><circle cx="17" cy="12" r=".7"/><path d="M10 17q4 3 8 0"/>');
s+=rect(8,358,36,1,'#e6e7ea');
s+=ic(26,384,'<path d="M4 19L19 5l5 5L9 24zM8 16l2 2M11 13l3 3M14 11l2 2M17 8l3 3"/>');
s+=ic(26,421,'<circle cx="13" cy="13" r="8"/><path d="M19 19l5 5M9 13h8M13 9v8"/>');
s+=rect(8,447,36,1,'#e6e7ea');
s+=ic(26,473,'<path d="M6 24V13a8 8 0 0 1 16 0v11h-5V13a3 3 0 0 0-6 0v11zM6 19h5M17 19h5"/>');
s+=ic(26,511,'<path d="M5 22l1-5L17 6l4 4L10 21zM17 19h6v6h-6zM18 19v-2a2 2 0 0 1 4 0"/>');
s+=ic(26,550,'<rect x="8" y="13" width="14" height="11" rx="1.500"/><path d="M10 13V9a5 5 0 0 1 9-2M15 18v2"/>');
s+=ic(26,587,'<path d="M4 14q10-11 20 0q-10 11-20 0z"/><circle cx="14" cy="14" r="3.500"/>');
s+=ic(26,626,'<path d="M12 17l5-5M13 8l3-3a4 4 0 0 1 6 6l-3 3M15 21l-3 2a4 4 0 0 1-6-6l3-3"/>');
s+=rect(8,650,36,1,'#e6e7ea');
s+=ic(26,676,'<path d="M7 8h14M10 8v-2h8v2M8 8l2 16h8l2-16"/>');
s+=rect(9,1024,34,34,'#2e2e2e',5)+`<path d="M26 1032l2.500 6h6l-5 4l2 6l-5.500-3.500l-5.500 3.500l2-6l-5-4h6z" fill="none" stroke="#fff" stroke-width="1.100"/>`;
// right tools
s+=ic(1058,66,'<path d="M7 4h14v20l-7-3l-7 3zM10 9h8M10 13h8M10 17h8"/>');
s+=ic(1058,110,'<circle cx="14" cy="15" r="9"/><path d="M14 10v6h-4M5 7l4-3M23 7l-4-3"/>');
s+=ic(1058,157,'<path d="M14 5l10 7l-10 7l-10-7zM4 16l10 7l10-7"/>');
s+=ic(1058,204,'<path d="M4 6h20v14h-6l-4 4v-4H4zM18 20h6v3"/>')+badge(1068,193,'1',15);
s+=ic(1058,772,'<circle cx="14" cy="14" r="13"/><circle cx="14" cy="14" r="7"/><circle cx="14" cy="14" r="1.500"/><path d="M14 14l8-8"/>');
s+=ic(1058,815,'<path d="M14 4l7 8l-7 4l-7-4zM7 15l-4 9h22l-4-9"/>');
s+=ic(1058,860,'<rect x="4" y="6" width="20" height="18" rx="2"/><path d="M4 11h20M9 3v5M19 3v5"/>');
s+=ic(1058,911,'<circle cx="5" cy="21" r="2"/><path d="M3 12a10 10 0 0 1 11 9M3 7a16 16 0 0 1 16 14M8 4a20 20 0 0 1 16 17"/>')+badge(1061,896,'99+',26);
s+=ic(1058,954,'<path d="M7 21v-8a7 7 0 0 1 14 0v8M4 21h20v3H4zM11 24a3 3 0 0 0 6 0"/>')+badge(1065,942,'59',21);
s+=`<circle cx="1058" cy="998" r="17" fill="#2e2e2e"/>`;
[-6,0,6].forEach(a=>[-6,0,6].forEach(b=>{s+=rect(1058+a-2,998+b-2,4,4,'#fff',.8)}));
s+=rect(1041,1027,33,1,'#e6e7ea');
s+=ic(1058,1055,'<circle cx="14" cy="14" r="13"/><path d="M10 10a4 4 0 1 1 5 5q-1 1-1 3"/><circle cx="14" cy="22" r=".7"/>');
// x-axis settings
s+=ic(994,1027,'<path d="M7 14l3.500-6h7l3.500 6l-3.500 6h-7z"/><circle cx="14" cy="14" r="2.200"/>');
// bottom bar
[['1D',79],['5D',109],['1M',140],['3M',172],['6M',204],['YTD',239],['1Y',272],['5Y',300],['All',328]].forEach(a=>{s+=txt(a[1],1066,a[0],{a:'middle',s:13.5,f:'#2a3a55'})});
s+=rect(347,1050,1,22,'#e6e7ea');
s+=ic(371,1061,'<path d="M6 12V7h16v16H13M6 12h16M10 4v5M18 4v5M4 19h9M10 16l3 3l-3 3"/>');
s+=txt(875,1066,'12:49:01 UTC+8',{s:13.5,f:'#2a3a55'});
s+=rect(984,1050,1,22,'#e6e7ea');
s+=txt(995,1066,'ADJ',{s:13.5,f:'#2a3a55'});
document.getElementById('o').innerHTML=s;
</script>
</body></html>
